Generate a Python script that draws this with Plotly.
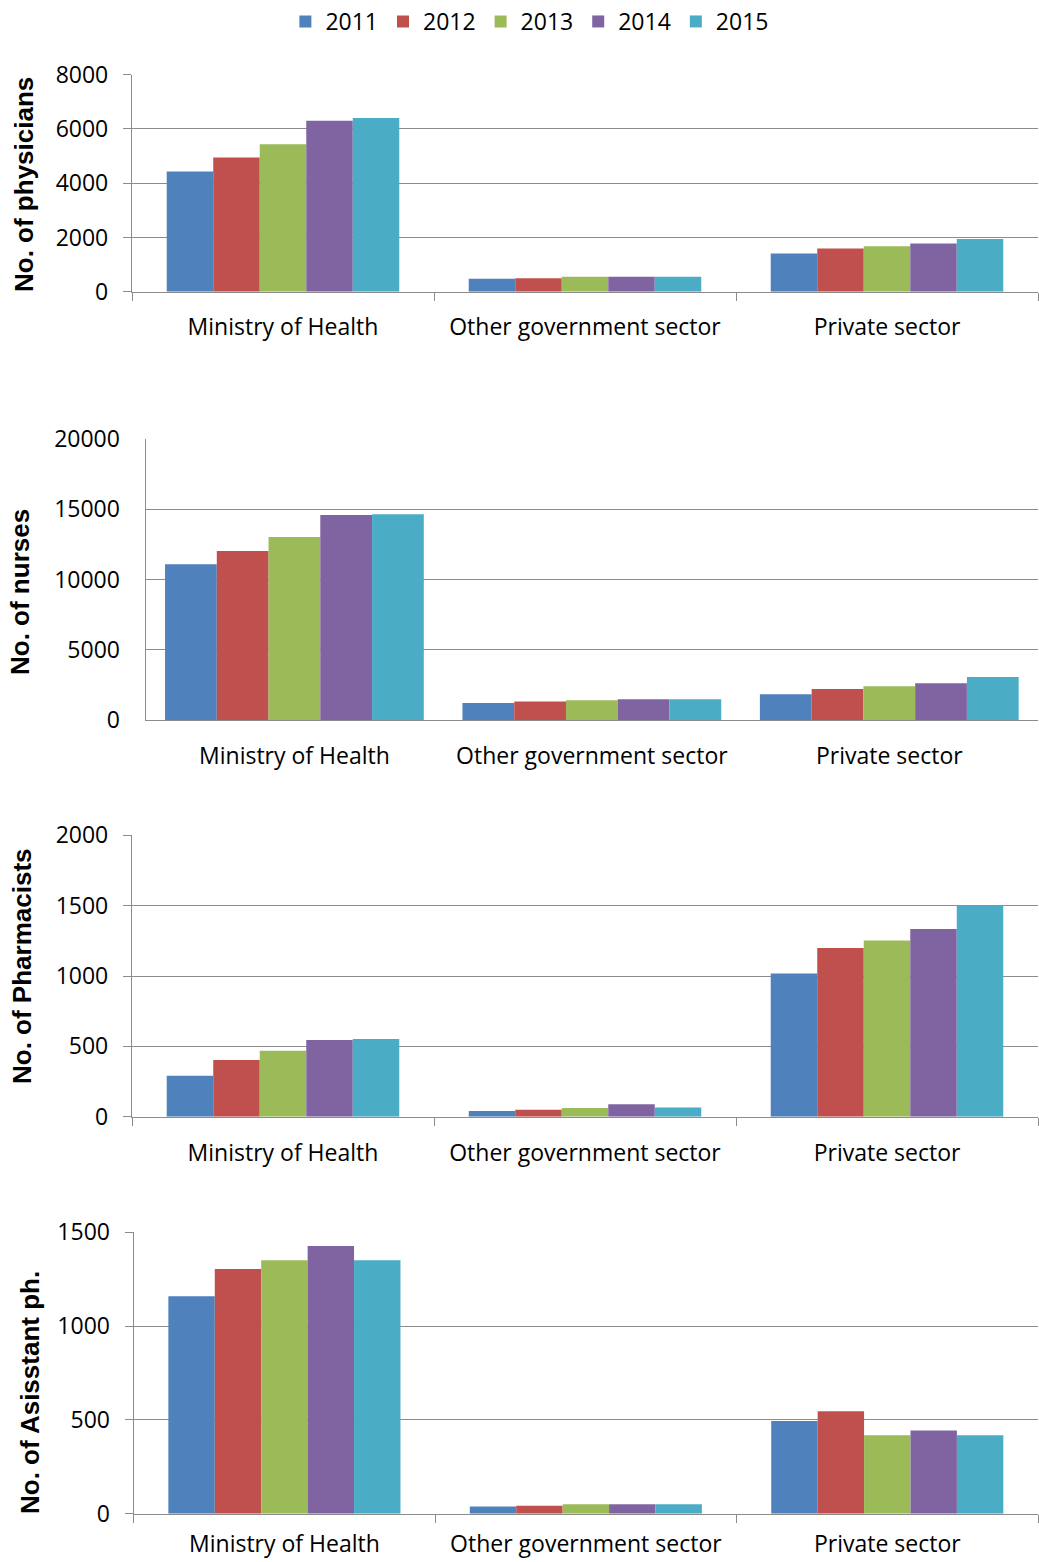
import plotly.graph_objects as go

# Workforce by sector, 2011-2015
sectors = ["Ministry of Health", "Other government sector", "Private sector"]
years = ["2011", "2012", "2013", "2014", "2015"]
colors = ["#4F81BD", "#C0504D", "#9BBB59", "#8064A2", "#4BACC6"]

physicians = {
    "2011": [4430, 480, 1410],
    "2012": [4950, 500, 1590],
    "2013": [5440, 550, 1680],
    "2014": [6300, 550, 1780],
    "2015": [6400, 550, 1940],
}
nurses = {
    "2011": [11090, 1230, 1850],
    "2012": [12040, 1330, 2230],
    "2013": [13030, 1420, 2420],
    "2014": [14600, 1490, 2630],
    "2015": [14650, 1490, 3080],
}
pharmacists = {
    "2011": [291, 40, 1017],
    "2012": [403, 50, 1199],
    "2013": [469, 62, 1253],
    "2014": [545, 88, 1334],
    "2015": [552, 66, 1502],
}
assistants = {
    "2011": [1159, 39, 494],
    "2012": [1304, 43, 546],
    "2013": [1351, 50, 418],
    "2014": [1427, 50, 444],
    "2015": [1351, 50, 418],
}

y_titles = ["No. of physicians", "No. of nurses", "No. of Pharmacists", "No. of Asisstant ph."]
y_ranges = [[0, 8000], [0, 20000], [0, 2000], [0, 1500]]
y_dticks = [2000, 5000, 500, 500]

W, H = 1039, 1562
# panel geometry in pixels: (left, right, top, bottom)
panels = [
    (132, 1038, 74.7, 291.7),
    (145.7, 1038, 439, 720.3),
    (132, 1038, 835.3, 1116.7),
    (133.7, 1038, 1232.3, 1513.7),
]
group_frac = [0.77, 0.87, 0.77, 0.77]
show_ticks = [True, False, True, True]
x_standoff = [15, 15, 16, 10]
y_standoff = [10, 20, 10, 10]
title_pos = [(24, 185), (20, 592), (22, 966), (30, 1393)]

GRID = "#8C8C8C"
TICK_FONT = dict(family="Open Sans", size=23, color="black")

fig = go.Figure()
datasets = [physicians, nurses, pharmacists, assistants]

for p, data in enumerate(datasets):
    suffix = "" if p == 0 else str(p + 1)
    gw = group_frac[p]
    bw = gw / len(years)
    for i, yr in enumerate(years):
        fig.add_trace(go.Bar(
            x=sectors, y=data[yr], name=yr,
            marker=dict(color=colors[i], line=dict(width=0)),
            width=bw, offset=-gw / 2 + i * bw,
            xaxis="x" + suffix, yaxis="y" + suffix,
            legendgroup=yr, showlegend=(p == 0),
        ))

layout = dict(
    width=W, height=H,
    margin=dict(l=0, r=0, t=0, b=0, autoexpand=False),
    paper_bgcolor="white", plot_bgcolor="white",
    barmode="group",
    font=TICK_FONT,
    legend=dict(orientation="h", x=0.51, xanchor="center", y=1.0, yanchor="top",
                font=TICK_FONT, itemwidth=30, tracegroupgap=0,
                traceorder="normal"),
    annotations=[],
)

for p in range(4):
    suffix = "" if p == 0 else str(p + 1)
    l, r, t, b = panels[p]
    layout["xaxis" + suffix] = dict(
        domain=[l / W, r / W], anchor="y" + suffix,
        type="category", range=[-0.5, 2.5],
        showline=True, linecolor=GRID, linewidth=1.3,
        ticks="outside" if show_ticks[p] else "", tickson="boundaries",
        ticklen=8, tickcolor=GRID, tickwidth=1.3,
        showgrid=False, tickfont=TICK_FONT,
        ticklabelstandoff=x_standoff[p],
        automargin=False, fixedrange=True,
    )
    layout["yaxis" + suffix] = dict(
        domain=[1 - b / H, 1 - t / H], anchor="x" + suffix,
        range=y_ranges[p], dtick=y_dticks[p], tick0=0, tickformat="d",
        showline=True, linecolor=GRID, linewidth=1.3,
        showgrid=True, gridcolor=GRID, gridwidth=1.3,
        zeroline=False,
        ticks="outside" if show_ticks[p] else "", ticklen=8,
        tickcolor=GRID, tickwidth=1.3,
        tickfont=TICK_FONT,
        ticklabelstandoff=y_standoff[p],
        automargin=False, fixedrange=True,
    )
    tx, ty = title_pos[p]
    layout["annotations"].append(dict(
        text="<b>" + y_titles[p] + "</b>", textangle=-90,
        x=tx / W, y=1 - ty / H, xref="paper", yref="paper",
        xanchor="center", yanchor="middle", showarrow=False,
        font=dict(family="Liberation Sans, Arial", size=26, color="black"),
    ))

fig.update_layout(**layout)
fig.write_html("out.html")
